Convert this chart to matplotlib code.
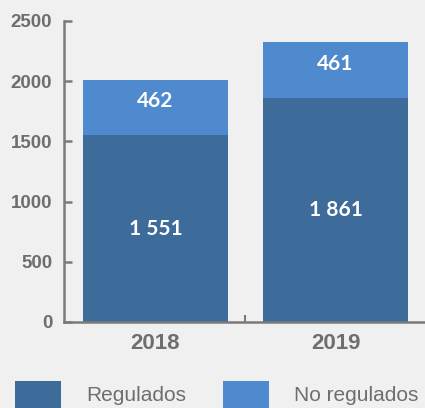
import numpy as np
import matplotlib.pyplot as plt
from matplotlib.patches import Patch

# data
years = ["2018", "2019"]
regulados = [1551, 1861]
no_regulados = [462, 461]
labels_reg = ["1 551", "1 861"]
labels_noreg = ["462", "461"]
yticks = [0, 500, 1000, 1500, 2000, 2500]

bg = "#eff0ef"
dark = "#3d6b9a"
light = "#4e8acd"
grey = "#6e6e6e"

fig = plt.figure(figsize=(4.25, 4.08), dpi=100, facecolor=bg)
ax = fig.add_axes([64 / 425, 86 / 408, 361 / 425, 301 / 408])
ax.set_facecolor(bg)

x = np.arange(len(years))
w = 0.806
ax.bar(x, regulados, w, color=dark, label="Regulados", zorder=2)
ax.bar(x, no_regulados, w, bottom=regulados, color=light, label="No regulados", zorder=2)

# value labels
for i in range(len(years)):
    ax.annotate(labels_reg[i], (x[i], regulados[i] / 2), ha="center", va="center",
                color="white", fontsize=15, fontweight="bold", family="Lato")
    ax.annotate(labels_noreg[i], (x[i], regulados[i] + no_regulados[i] / 2),
                xytext=(0, 4.5), textcoords="offset points", ha="center", va="center",
                color="white", fontsize=15, fontweight="bold", family="Lato")

ax.set_xlim(-0.508, 1.497)
ax.set_ylim(0, 2500)
ax.set_yticks(yticks)
ax.set_yticklabels([str(t) for t in yticks])
ax.set_xticks(x)
ax.set_xticklabels(years)
ax.set_xticks([0.5], minor=True)

for s in ["top", "right"]:
    ax.spines[s].set_visible(False)
for s in ["left", "bottom"]:
    ax.spines[s].set_color("#7a7a7a")
    ax.spines[s].set_linewidth(1.8)

ax.tick_params(axis="y", direction="in", length=6, width=1.8, color="#7a7a7a", pad=8.5,
               labelsize=13.5, labelcolor=grey)
ax.tick_params(axis="x", which="major", length=0, pad=8, labelsize=16, labelcolor=grey)
ax.tick_params(axis="x", which="minor", direction="in", length=5, width=1.5, color="#7a7a7a")
for lab in ax.get_yticklabels() + ax.get_xticklabels():
    lab.set_fontweight("bold")
    lab.set_family("Liberation Sans")

handles = [Patch(facecolor=dark, label="Regulados"), Patch(facecolor=light, label="No regulados")]
fig.legend(handles=handles, loc="center left", bbox_to_anchor=(15 / 425, 0.033), ncol=2,
           frameon=False, prop={"family": "Liberation Sans", "size": 15},
           labelcolor=grey, handlelength=2.2, handleheight=1.6, handletextpad=1.2,
           columnspacing=1.8, borderpad=0, borderaxespad=0)

fig.savefig("out.png", dpi=100, facecolor=bg)
